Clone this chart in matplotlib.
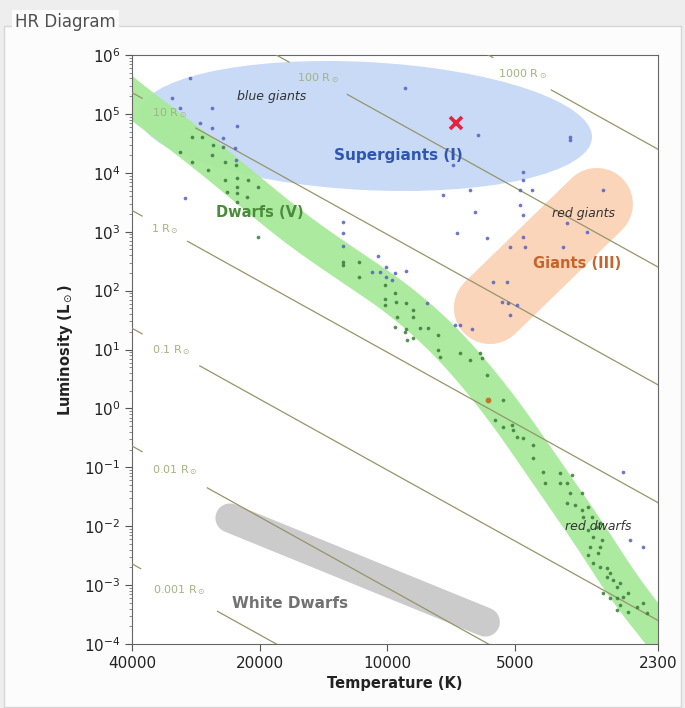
import numpy as np
import matplotlib.pyplot as plt
from matplotlib.patches import Ellipse, Rectangle
from matplotlib.transforms import IdentityTransform
from matplotlib.ticker import FixedLocator, FixedFormatter, LogLocator, NullLocator

plt.rcParams['font.family'] = ['DejaVu Sans']

# stars, log10(T [K]) and log10(L [Lsun])
giant_logT = [4.465, 4.508, 4.489, 4.413, 4.442, 4.413, 4.354, 4.387, 4.359, 3.958,
              3.786, 3.569, 3.569, 3.845, 3.680, 3.680, 3.687, 3.659, 3.805, 3.869,
              3.687, 3.680, 3.793, 3.836, 3.765, 3.680, 3.711, 3.675, 3.586, 3.491,
              3.529, 3.576, 3.751, 3.718, 3.730, 3.715, 3.694, 3.711, 3.840, 3.829,
              3.800, 4.477, 4.357, 4.104, 4.104, 4.104, 4.022, 4.036, 4.017, 4.003,
              4.003, 3.982, 3.956, 3.906, 3.989, 3.444, 3.428, 3.397]
giant_logL = [5.61, 5.27, 5.10, 5.10, 4.85, 4.76, 4.79, 4.59, 4.42, 5.44,
              4.64, 4.61, 4.55, 4.13, 4.01, 3.88, 3.71, 3.71, 3.71, 3.62,
              3.45, 3.28, 3.33, 2.98, 2.89, 2.91, 2.74, 2.74, 2.74, 3.71,
              3.00, 3.15, 2.14, 2.14, 1.81, 1.79, 1.76, 1.59, 1.42, 1.42,
              1.35, 3.57, 4.22, 3.16, 2.98, 2.76, 2.59, 2.32, 2.32, 2.40,
              2.23, 2.30, 2.33, 1.79, 2.18, -1.08, -2.23, -2.35]

dwarf_logT = [4.461, 4.437, 4.411, 4.387, 4.489, 4.461, 4.413, 4.383, 4.357, 4.423,
              4.383, 4.354, 4.328, 4.354, 4.354, 4.378, 4.331, 4.305, 4.354, 4.305,
              4.104, 4.104, 4.067, 4.067, 4.005, 3.982, 4.005, 4.005, 3.979, 3.956,
              3.939, 3.939, 3.977, 3.982, 3.956, 3.923, 3.904, 3.880, 3.939, 3.953,
              3.958, 3.880, 3.876, 3.829, 3.805, 3.781, 3.777, 3.765, 3.727, 3.746,
              3.727, 3.706, 3.704, 3.694, 3.680, 3.656, 3.656, 3.633, 3.628, 3.593,
              3.593, 3.576, 3.564, 3.569, 3.541, 3.576, 3.557, 3.541, 3.527, 3.538,
              3.517, 3.505, 3.498, 3.527, 3.515, 3.494, 3.522, 3.498, 3.527, 3.503,
              3.515, 3.498, 3.482, 3.475, 3.482, 3.468, 3.458, 3.451, 3.491, 3.475,
              3.458, 3.444, 3.432, 3.451, 3.458, 3.432, 3.411, 3.397, 3.387]
dwarf_logL = [4.61, 4.61, 4.47, 4.44, 4.35, 4.18, 4.30, 4.18, 4.13, 4.05,
              3.88, 3.91, 3.88, 3.76, 3.66, 3.67, 3.59, 3.76, 3.50, 2.91,
              2.49, 2.43, 2.49, 2.23, 2.10, 1.96, 1.86, 1.76, 1.81, 1.79,
              1.67, 1.55, 1.55, 1.38, 1.35, 1.37, 1.37, 1.25, 1.20, 1.16,
              1.30, 0.99, 0.87, 0.94, 0.82, 0.94, 0.86, 0.57, 0.14, -0.20,
              -0.32, -0.28, -0.37, -0.49, -0.50, -0.62, -0.84, -1.08, -1.27, -1.10,
              -1.27, -1.27, -1.13, -1.44, -1.44, -1.61, -1.64, -1.73, -1.67, -1.84,
              -1.84, -2.01, -1.95, -2.06, -2.18, -2.23, -2.35, -2.35, -2.49, -2.45,
              -2.62, -2.69, -2.71, -2.79, -2.86, -2.91, -3.03, -2.96, -3.13, -3.22,
              -3.22, -3.20, -3.13, -3.34, -3.42, -3.46, -3.37, -3.30, -3.47]

sun_logT, sun_logL = 3.763, 0.14
marked_T, marked_L = 6900, 7.0e4

# constant-radius lines
T_SUN = 5778
radii = [1000, 100, 10, 1, 0.1, 0.01, 0.001]
radius_names = ['1000 R$_\\odot$', '100 R$_\\odot$', '10 R$_\\odot$', '1 R$_\\odot$',
                '0.1 R$_\\odot$', '0.01 R$_\\odot$', '0.001 R$_\\odot$']
radius_label_logT = [3.682, 4.163, 4.515, 4.524, 4.510, 4.501, 4.491]
radius_gap = [0.068, 0.068, 0.062, 0.053, 0.067, 0.076, 0.09]

# region outlines (log10 units)
ms_logT = [4.654, 4.602, 4.442, 4.300, 4.206, 4.104, 3.970, 3.852, 3.734, 3.628, 3.522, 3.439, 3.345]
ms_logL = [5.576, 5.253, 4.387, 3.538, 2.995, 2.486, 1.840, 1.076, 0.058, -1.046, -2.149, -3.083, -3.932]
wd_logT = [4.371, 3.769]
wd_logL = [-1.861, -3.627]
giants_logT = [3.758, 3.506]
giants_logL = [1.705, 3.470]
sg_center = (4.052, 4.795)

region_labels = ['blue giants', 'Supergiants (I)', 'Dwarfs (V)', 'red giants',
                 'Giants (III)', 'red dwarfs', 'White Dwarfs']
region_label_T = [18700, 9440, 19950, 3450, 3570, 3185, 16960]
region_label_L = [1.94e5, 2.0e4, 2.08e3, 2.0e3, 2.94e2, 1.0e-2, 4.8e-4]

x_ticks = [40000, 20000, 10000, 5000, 2300]


def chaikin(xs, ys, rounds=4):
    pts = np.column_stack([xs, ys])
    for _ in range(rounds):
        q = 0.75 * pts[:-1] + 0.25 * pts[1:]
        r = 0.25 * pts[:-1] + 0.75 * pts[1:]
        mid = np.empty((2 * len(q), 2))
        mid[0::2] = q
        mid[1::2] = r
        pts = np.vstack([pts[:1], mid, pts[-1:]])
    return pts[:, 0], pts[:, 1]


fig = plt.figure(figsize=(6.85, 7.08), dpi=100)
fig.patch.set_facecolor('#eeeeee')
fig.patches.append(Rectangle((0.006, 0.002), 0.988, 0.961, transform=fig.transFigure,
                             facecolor='#fcfcfc', edgecolor='#d6d6d6', lw=1, zorder=-5))
fig.text(0.022, 0.969, 'HR Diagram', fontsize=12, color='#505050', va='center',
         bbox=dict(facecolor='#fcfcfc', edgecolor='none', pad=2), zorder=-4)

ax = fig.add_axes([0.1927, 0.0904, 0.7679, 0.8319])
ax.set_xscale('log')
ax.set_yscale('log')
ax.set_xlim(40000, 2300)
ax.set_ylim(1e-4, 1e6)

# supergiant ellipse, sized in pixels
cx, cy = ax.transData.transform((10 ** sg_center[0], 10 ** sg_center[1]))
ax.add_patch(Ellipse((cx, cy), 454, 128, angle=-3, transform=IdentityTransform(),
                     facecolor='#c8daf5', edgecolor='none', zorder=1))

ax.plot(10 ** np.array(giants_logT), 10 ** np.array(giants_logL), color='#fbd5b9',
        lw=52, solid_capstyle='round', zorder=1)
ax.plot(10 ** np.array(wd_logT), 10 ** np.array(wd_logL), color='#cbcbcb',
        lw=21, solid_capstyle='round', zorder=1)
sx, sy = chaikin(ms_logT, ms_logL)
ax.plot(10 ** sx, 10 ** sy, color='#a8ea9a', alpha=0.95,
        lw=25.5, solid_capstyle='butt', solid_joinstyle='round', zorder=2)

t_grid = np.logspace(np.log10(2200), np.log10(42000), 800)
for r, name, lt, gap in zip(radii, radius_names, radius_label_logT, radius_gap):
    lum = r ** 2 * (t_grid / T_SUN) ** 4
    lum = np.where(np.abs(np.log10(t_grid) - lt) < gap, np.nan, lum)
    ax.plot(t_grid, lum, color='#95956a', lw=0.9, zorder=3)
    ax.text(10 ** lt, r ** 2 * (10 ** lt / T_SUN) ** 4, name, ha='center', va='center',
            fontsize=8, color='#a2b482', zorder=3)

ax.scatter(10 ** np.array(giant_logT), 10 ** np.array(giant_logL), s=7,
           color='#5560c0', alpha=0.85, linewidths=0, zorder=4)
ax.scatter(10 ** np.array(dwarf_logT), 10 ** np.array(dwarf_logL), s=7,
           color='#3a7a3a', alpha=0.85, linewidths=0, zorder=4)
ax.scatter([10 ** sun_logT], [10 ** sun_logL], s=10, color='#c0762a', zorder=4)
ax.plot(marked_T, marked_L, marker='x', color='#e3243e', ms=8, mew=2.6, zorder=5)

label_styles = [
    dict(fontsize=9, style='italic', color='#333333'),
    dict(fontsize=11, weight='bold', color='#2f57b2'),
    dict(fontsize=10.5, weight='bold', color='#4a8c3a'),
    dict(fontsize=9, style='italic', color='#333333'),
    dict(fontsize=10.5, weight='bold', color='#c8642a'),
    dict(fontsize=9, style='italic', color='#333333'),
    dict(fontsize=11, weight='bold', color='#727272'),
]
for txt, t, l, st in zip(region_labels, region_label_T, region_label_L, label_styles):
    ax.text(t, l, txt, ha='center', va='center', zorder=6, **st)

ax.xaxis.set_major_locator(FixedLocator(x_ticks))
ax.xaxis.set_major_formatter(FixedFormatter([str(v) for v in x_ticks]))
ax.xaxis.set_minor_locator(NullLocator())
ax.yaxis.set_major_locator(LogLocator(base=10, numticks=20))
ax.yaxis.set_minor_locator(LogLocator(base=10, subs=np.arange(2, 10), numticks=20))
ax.tick_params(axis='both', which='major', length=5, color='#555555',
               labelsize=11, labelcolor='#222222')
ax.tick_params(axis='y', which='minor', length=2.5, color='#777777')
for sp in ax.spines.values():
    sp.set_color('#666666')

ax.set_xlabel('Temperature (K)', fontsize=10.5, weight='bold', color='#222222', labelpad=4)
ax.set_ylabel('Luminosity (L$_\\odot$)', fontsize=10.5, weight='bold', color='#222222',
              labelpad=6)

fig.savefig('out.png', dpi=100, facecolor=fig.get_facecolor())
